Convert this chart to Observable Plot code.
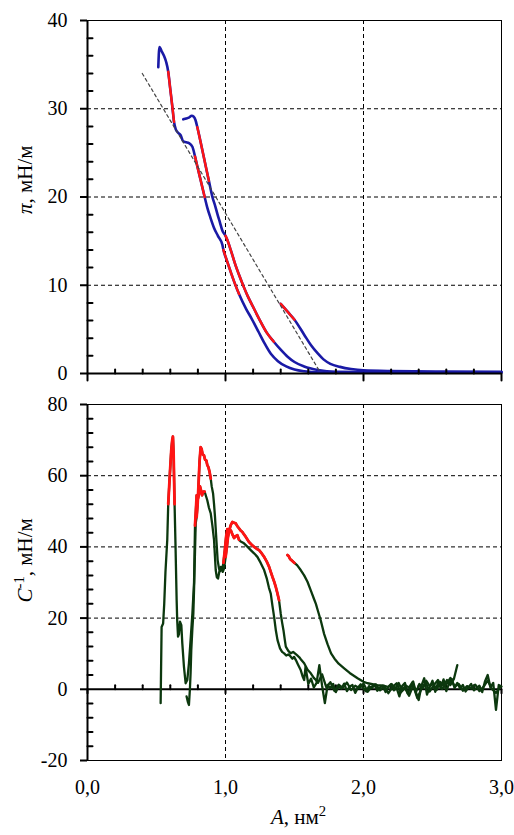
<!DOCTYPE html>
<html><head><meta charset="utf-8">
<script src="https://cdn.jsdelivr.net/npm/d3@7"></script>
<script src="https://cdn.jsdelivr.net/npm/@observablehq/plot@0.6"></script>
<style>body{margin:0;background:#fff;} svg{display:block;}</style>
</head><body><div id="chart"></div>
<script>
// ---- axis ticks / labels ----
const areaMajor = [0, 1, 2, 3];
const areaLabels = ["0,0", "1,0", "2,0", "3,0"];
const areaMinor = [0.2,0.4,0.6,0.8,1.2,1.4,1.6,1.8,2.2,2.4,2.6,2.8];
const piTicks = [0, 10, 20, 30, 40];
const piMinor = [2,4,6,8,12,14,16,18,22,24,26,28,32,34,36,38];
const cTicks = [-20, 0, 20, 40, 60, 80];
const cMinor = [-16,-12,-8,-4,4,8,12,16,24,28,32,36,44,48,52,56,64,68,72,76];
const areaGrid = [1, 2];
const piGrid = [10, 20, 30];
const cGrid = [20, 40, 60];
const piLabel = "π, мН/м";
const cLabel = "C-1, мН/м";
const areaLabel = "A, нм2";

// ---- isotherms π(A) ----
const isoA1 = [0.513,0.518,0.522,0.535,0.554,0.570,0.585,0.600,0.615,0.627,0.639,0.655,0.675,0.694,0.715,0.735,0.760,0.779,0.800,0.820,0.849,0.868,0.890,0.917,0.945,0.977,0.985,1.010,1.040,1.070,1.098,1.150,1.190,1.240,1.280,1.330,1.380,1.440,1.500,1.570,1.650,1.800,2.200,2.600,3.000];
const isoP1 = [34.7,36.5,37.0,36.6,36.0,35.3,34.2,32.2,30.2,28.5,27.7,27.3,27.0,26.3,26.2,26.1,25.7,24.6,23.2,21.9,20.0,18.8,17.7,16.5,15.6,14.6,14.0,12.8,11.4,10.1,9.0,7.3,6.2,4.7,3.5,2.2,1.4,0.8,0.45,0.25,0.15,0.1,0.1,0.1,0.1];
const isoA2 = [0.694,0.715,0.735,0.755,0.770,0.783,0.796,0.820,0.850,0.880,0.905,0.925,0.941,0.960,0.977,1.000,1.009,1.040,1.070,1.100,1.130,1.160,1.195,1.250,1.300,1.350,1.400,1.450,1.500,1.570,1.670,1.800,2.200,3.000];
const isoP2 = [28.8,28.9,29.0,29.2,29.1,28.7,27.9,26.2,24.0,21.8,20.0,19.0,18.1,17.1,16.2,15.6,15.3,13.9,12.4,11.1,9.9,8.8,7.7,6.0,4.6,3.6,2.7,1.9,1.3,0.8,0.4,0.2,0.15,0.15];
const isoA3 = [1.400,1.450,1.500,1.570,1.620,1.667,1.710,1.760,1.830,1.910,2.000,2.200,2.600,3.000];
const isoP3 = [7.9,7.0,6.1,4.4,3.2,2.3,1.6,1.1,0.75,0.5,0.35,0.27,0.22,0.2];
const fitA = [0.397, 1.68];
const fitP = [34.0, 0.3];

// red highlighted ranges of A for each run
const red1 = [[0.585, 0.631], [0.779, 0.849], [0.985, 1.098]];
const red2 = [[0.791, 0.893], [1.0, 1.388]];
const red3 = [[1.40, 1.50]];

// ---- compression modulus C^-1(A) ----
const cA1 = [0.530,0.537,0.548,0.556,0.565,0.578,0.585,0.597,0.607,0.614,0.619,0.624,0.628,0.631,0.638,0.646,0.650,0.656,0.663,0.670,0.680,0.687,0.699,0.711,0.723,0.735,0.747,0.760,0.772,0.779,0.785,0.791,0.800,0.808,0.815,0.822,0.830,0.839,0.849,0.868,0.880,0.893,0.905,0.917,0.929,0.937,0.946,0.955,0.965,0.975,0.985,0.995,1.005,1.013,1.022,1.030,1.040,1.050,1.062,1.074,1.086,1.098,1.110,1.134,1.160,1.183,1.207,1.231,1.255,1.280,1.300,1.315,1.328,1.340,1.352,1.365,1.377,1.395,1.410,1.425,1.440,1.455,1.470,1.485,1.497,1.510,1.525,1.545,1.560,1.570,
1.58,1.60,1.62,1.64,1.66,1.68,1.70,1.72,1.74,1.76,1.78,1.80,1.82,1.84,1.86,1.88,1.90,1.92,1.94,1.96,1.98,2.00,2.02,2.04,2.06,2.08,2.10,2.12,2.14,2.16,2.18,2.20,2.22,2.24,2.26,2.28,2.30,2.32,2.34,2.36,2.38,2.40,2.42,2.44,2.46,2.48,2.50,2.52,2.54,2.56,2.58,2.60,2.62,2.64,2.66,2.68,2.70,2.72,2.74,2.76,2.78,2.80,2.82,2.84,2.86,2.88,2.90,2.92,2.94,2.96,2.98,3.00];
const cV1 = [-3.9,17.5,18.5,24,33,42,52,60.6,67.1,70,71,66,58,52,40,25,19.4,14.8,15.5,19,18,12.9,6.3,1.7,2.6,7.3,13.8,21.3,30,46,50,54.5,53.5,55,57,56,54.5,55.5,55.5,53.1,51,49.4,46,41.9,33.5,31.5,31.1,33,34.4,33.8,35.5,39,43,45,44,45,44.5,43.5,42.5,43,43.3,42,41.5,41,40,39.1,38.2,37.2,35.5,33.5,31,28.5,26.9,23.5,20.4,16.5,13.8,11.5,10.5,10.1,9.5,9.8,9.3,8.6,9.1,8.2,7,5.4,3.5,2.6,
6.3,1.5,3.0,0.5,1.8,6.8,1.0,-3.9,1.2,0.3,1.5,-0.8,1.0,0.2,1.6,-0.5,0.8,1.2,-1.0,0.5,1.4,0.2,-0.6,0.9,0.3,1.3,-0.4,0.6,1.0,-0.8,0.7,1.5,-0.3,0.4,-2.0,0.9,1.8,-1.2,0.5,2.2,-0.9,-3.0,1.0,3.1,-1.5,0.6,2.4,-0.7,1.9,0.3,2.8,-0.5,1.6,2.9,0.4,1.8,0.2,1.2,-0.6,0.5,1.5,-0.3,0.4,1.0,-0.8,2.2,4.0,0.5,1.8,-5.8,1.2,0.8];
const cA2 = [0.718,0.727,0.735,0.742,0.747,0.752,0.760,0.767,0.772,0.778,0.784,0.791,0.798,0.805,0.812,0.820,0.827,0.834,0.844,0.852,0.861,0.868,0.876,0.885,0.893,0.900,0.910,0.917,0.924,0.934,0.943,0.953,0.962,0.972,0.980,0.990,1.001,1.010,1.018,1.028,1.038,1.050,1.062,1.074,1.086,1.098,1.110,1.122,1.134,1.147,1.160,1.170,1.190,1.207,1.225,1.243,1.260,1.280,1.300,1.316,1.328,1.340,1.352,1.364,1.376,1.388,1.400,1.410,1.420,1.430,1.437,1.455,1.473,1.490,1.505,1.520,1.535,1.550,1.570,1.595,1.618,1.640,1.655,
1.67,1.70,1.73,1.76,1.79,1.82,1.85,1.88,1.91,1.94,1.97,2.00,2.03,2.06,2.09,2.12,2.15,2.18,2.21,2.24,2.27,2.30,2.33,2.36,2.39,2.42,2.45,2.48,2.51,2.54,2.57,2.60,2.63,2.66,2.69,2.72,2.75,2.78,2.81,2.84,2.87,2.90,2.93,2.96,2.99];
const cV2 = [-2,-3.5,-4.4,0,4.5,11,17,21.3,27.9,37,46.6,48.4,52,58,64,68,67.5,66,65.7,64.5,64.3,63,62.4,61,59.2,57,55,52,48.4,41.9,36.3,33.9,33.2,34,33,34,37.2,40,42.8,44.8,46.1,47,46.8,46.6,45.8,45.2,44.6,44.2,43.5,42.8,42,41.4,40.6,40,39.5,39.1,38.3,37.2,35.8,34.4,33,31.6,30.3,28.8,27,25,21.3,18.8,16.6,13.8,12,10.8,10.1,10.5,10,9.5,9,8.2,7.3,5.5,4.5,3.2,2.6,
1.8,4.2,0.6,2.0,-0.5,1.3,0.4,1.9,-0.2,1.0,0.3,1.6,-0.7,0.8,1.4,-0.3,0.9,-1.1,0.6,1.7,-0.9,0.4,-1.8,1.1,-2.5,0.2,1.9,-0.6,1.2,2.6,0.1,1.4,3.2,0.8,1.5,-0.4,0.9,0.2,1.3,-0.5,0.7,2.5,0.1,-1.0,0.6];
const cA3 = [1.449,1.458,1.468,1.480,1.500,1.520,1.545,1.570,1.594,1.620,1.640,1.655,1.670,1.690,1.715,1.740,1.765,1.790,1.820,1.860,1.900,1.957,2.000,2.030,2.100,2.150,
2.180,2.205,2.230,2.255,2.280,2.305,2.330,2.355,2.380,2.405,2.430,2.455,2.480,2.505,2.530,2.555,2.580,2.605,2.630,2.655,2.680];
const cV3 = [37.7,37.4,36.6,36.2,35.5,34.8,33.5,32,30.2,27.6,25.5,24,22,19.4,15.5,12.6,10.1,8.6,7.2,5.9,4.6,3.1,2.1,1.7,1.2,1.0,
0.6,1.4,0.2,1.8,-0.4,1.1,0.5,2.0,-0.8,1.5,0.3,2.4,0.9,1.7,-0.2,2.1,1.0,2.6,1.2,2.9,6.8];

// ---- styling ----
const BLUE = "#1a1aa6", RED = "#ff1414", GREEN = "#0c380e";
const FONT = "Liberation Serif, Times New Roman, serif";

function rows(A, V, run) { return A.map((a, i) => ({A: a, v: V[i], run})); }
function redRows(A, V, ranges, run) {
  const out = [];
  ranges.forEach((r, j) => A.forEach((a, i) => { if (a >= r[0] - 1e-9 && a <= r[1] + 1e-9) out.push({A: a, v: V[i], seg: run + "-" + j}); }));
  return out;
}
const tickShape = {draw(ctx, l) { ctx.moveTo(0, 0); ctx.lineTo(0, -l); }};

const isoRows = [...rows(isoA1, isoP1, 1), ...rows(isoA2, isoP2, 2), ...rows(isoA3, isoP3, 3)];
const isoRed = [...redRows(isoA1, isoP1, red1, 1), ...redRows(isoA2, isoP2, red2, 2), ...redRows(isoA3, isoP3, red3, 3)];
const cRows = [...rows(cA1, cV1, 1), ...rows(cA2, cV2, 2), ...rows(cA3, cV3, 3)];
const cRed = [...redRows(cA1, cV1, red1, 1), ...redRows(cA2, cV2, red2, 2), ...redRows(cA3, cV3, red3, 3)];
const fitRows = fitA.map((a, i) => ({A: a, v: fitP[i]}));

const topPlot = Plot.plot({
  width: 514, height: 381, marginLeft: 87, marginRight: 13, marginTop: 20, marginBottom: 8,
  style: {fontFamily: FONT, fontSize: "20px", background: "white", overflow: "visible"},
  x: {domain: [0, 3], axis: null},
  y: {domain: [0, 40]},
  marks: [
    Plot.ruleX(areaGrid, {stroke: "#000", strokeWidth: 1, strokeDasharray: "4,3"}),
    Plot.ruleY(piGrid, {stroke: "#000", strokeWidth: 1, strokeDasharray: "4,3"}),
    Plot.frame({stroke: "#000", strokeWidth: 1}),
    Plot.line(isoRows, {x: "A", y: "v", z: "run", stroke: BLUE, strokeWidth: 2.6, curve: "monotone-x"}),
    Plot.line(isoRed, {x: "A", y: "v", z: "seg", stroke: RED, strokeWidth: 2.4, curve: "monotone-x"}),
    Plot.line(fitRows, {x: "A", y: "v", stroke: "#444", strokeWidth: 1.2, strokeDasharray: "3,3"}),
    Plot.ruleX([0], {stroke: "#000", strokeWidth: 2}),
    Plot.ruleY([0], {stroke: "#000", strokeWidth: 2}),
    Plot.vector(areaMinor, {x: d => d, y: 0, length: 4, rotate: 0, anchor: "start", shape: tickShape, stroke: "#000", strokeWidth: 2}),
    Plot.vector(areaMajor, {x: d => d, y: 0, length: 7, rotate: 180, anchor: "start", shape: tickShape, stroke: "#000", strokeWidth: 2}),
    Plot.vector(piMinor, {x: 0, y: d => d, length: 5, rotate: 90, anchor: "start", shape: tickShape, stroke: "#000", strokeWidth: 2}),
    Plot.axisY(piTicks, {tickSize: 7, tickPadding: 13, strokeWidth: 2, fontSize: 20, tickFormat: d => String(d), label: null}),
    Plot.text([piLabel], {frameAnchor: "left", dx: -62, dy: 17, rotate: -90, fontSize: 21, fill: "#000"})
  ]
});

const botPlot = Plot.plot({
  width: 514, height: 454, marginLeft: 87, marginRight: 13, marginTop: 23, marginBottom: 75,
  style: {fontFamily: FONT, fontSize: "20px", background: "white", overflow: "visible"},
  x: {domain: [0, 3]},
  y: {domain: [-20, 80]},
  marks: [
    Plot.ruleX(areaGrid, {stroke: "#000", strokeWidth: 1, strokeDasharray: "4,3"}),
    Plot.ruleY(cGrid, {stroke: "#000", strokeWidth: 1, strokeDasharray: "4,3"}),
    Plot.frame({stroke: "#000", strokeWidth: 1}),
    Plot.ruleY([0], {stroke: "#000", strokeWidth: 2}),
    Plot.vector(areaMinor, {x: d => d, y: 0, length: 4, rotate: 0, anchor: "start", shape: tickShape, stroke: "#000", strokeWidth: 2}),
    Plot.vector(areaMajor, {x: d => d, y: 0, length: 4, rotate: 180, anchor: "start", shape: tickShape, stroke: "#000", strokeWidth: 2}),
    Plot.line(cRows, {x: "A", y: "v", z: "run", stroke: GREEN, strokeWidth: 2.3}),
    Plot.line(cRed, {x: "A", y: "v", z: "seg", stroke: RED, strokeWidth: 2.8}),
    Plot.ruleX([0], {stroke: "#000", strokeWidth: 2}),
    Plot.vector(cMinor, {x: 0, y: d => d, length: 5, rotate: 90, anchor: "start", shape: tickShape, stroke: "#000", strokeWidth: 2}),
    Plot.axisY(cTicks, {tickSize: 7, tickPadding: 13, strokeWidth: 2, fontSize: 20, tickFormat: d => String(d), label: null}),
    Plot.axisX(areaMajor, {tickSize: 0, tickPadding: 19, fontSize: 20, tickFormat: d => areaLabels[areaMajor.indexOf(d)], label: null}),
    Plot.text([cLabel], {frameAnchor: "left", dx: -62, dy: 20, rotate: -90, fontSize: 21, fill: "#000"}),
    Plot.text([areaLabel], {frameAnchor: "bottom", dx: 4, dy: 63, fontSize: 21, fill: "#000"})
  ]
});

const root = document.getElementById("chart");
root.append(topPlot, botPlot);

// rich formatting of the axis titles (italic symbols, superscripts)
function rich(plain, parts) {
  d3.selectAll("#chart text").filter(function() { return this.textContent === plain; }).each(function() {
    const t = d3.select(this);
    t.text(null);
    parts.forEach(p => {
      const s = t.append("tspan").text(p.t);
      if (p.i) s.attr("font-style", "italic");
      if (p.sup) s.attr("baseline-shift", "super").attr("font-size", "70%");
    });
  });
}
rich(piLabel, [{t: "π", i: true}, {t: ", мН/м"}]);
rich(cLabel, [{t: "C", i: true}, {t: "-1", sup: true}, {t: ", мН/м"}]);
rich(areaLabel, [{t: "A", i: true}, {t: ", нм"}, {t: "2", sup: true}]);
</script></body></html>
